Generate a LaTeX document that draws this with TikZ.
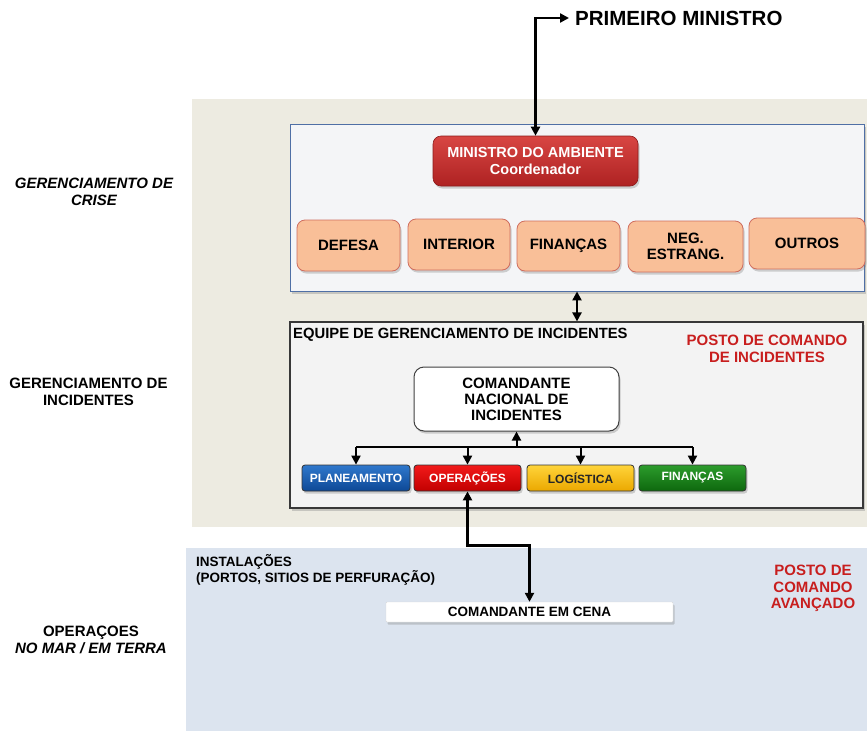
\documentclass[tikz,border=0pt]{standalone}
\usepackage{fontspec}
\setmainfont{Liberation Sans}
\usetikzlibrary{shadows,arrows.meta,calc}
\definecolor{beige}{HTML}{EDEBE1}
\definecolor{bluebg}{HTML}{DCE4EF}
\definecolor{crisisfill}{HTML}{F4F5F7}
\definecolor{crisisbord}{HTML}{4F6FA5}
\definecolor{orfill}{HTML}{F9BF98}
\definecolor{orbord}{HTML}{CF6D5E}
\definecolor{mdatop}{HTML}{D84643}
\definecolor{mdabot}{HTML}{AE2222}
\definecolor{redtxt}{HTML}{C81E1E}
\definecolor{incfill}{HTML}{F3F3F3}
\definecolor{plantop}{HTML}{2F78CC}
\definecolor{planbot}{HTML}{0D4896}
\definecolor{opetop}{HTML}{F21A1A}
\definecolor{opebot}{HTML}{C20000}
\definecolor{logtop}{HTML}{FFD43A}
\definecolor{logbot}{HTML}{EBA800}
\definecolor{fintop}{HTML}{2C9C2C}
\definecolor{finbot}{HTML}{0E680E}
\begin{document}
\begin{tikzpicture}[x=1pt,y=-1pt,
  lbl/.style={font=\fontsize{15}{16.5}\selectfont\bfseries, align=center, inner sep=1pt},
  shd/.style={drop shadow={opacity=0.35, shadow xshift=1.5pt, shadow yshift=-2.5pt}},
  orangebox/.style={draw=orbord, fill=orfill, rounded corners=8pt, line width=0.8pt,
    minimum height=51pt, font=\fontsize{15}{16}\selectfont\bfseries, align=center, shd},
  rowbox/.style={rounded corners=3pt, draw=black!80, line width=0.8pt, minimum width=107pt,
    minimum height=26pt, font=\fontsize{12}{13}\selectfont\bfseries, shd},
  arr/.style={line width=2pt, -{Triangle[length=9pt,width=9pt]}},
  darr/.style={line width=2.3pt, {Triangle[length=9pt,width=9pt]}-{Triangle[length=9pt,width=9pt]}},
]
\useasboundingbox (0,0) rectangle (867,731);
\fill[white] (0,0) rectangle (867,731);
\fill[beige] (192,99) rectangle (867,527);
\fill[bluebg] (186,548) rectangle (867,731);

% left labels
\node[lbl, font=\fontsize{15}{16.5}\selectfont\bfseries\itshape] (lcrise) at (94,192) {GERENCIAMENTO DE\\CRISE};
\node[lbl] (linc) at (88.5,392) {GERENCIAMENTO DE\\INCIDENTES};
\node[lbl] (lops) at (91,640) {OPERAÇOES\\{\itshape NO MAR / EM TERRA}};

% crisis box
\node[draw=crisisbord, fill=crisisfill, line width=0.9pt, minimum width=574pt,
  minimum height=167pt, inner sep=0pt, shd] (crisis) at (577,207.5) {};
\node[rounded corners=8pt, top color=mdatop, bottom color=mdabot, draw=mdabot!80!black,
  line width=0.6pt, minimum width=205pt, minimum height=50pt, text=white,
  font=\fontsize{14.5}{17}\selectfont\bfseries, align=center, shd] (mda) at (535.5,161)
  {MINISTRO DO AMBIENTE\\Coordenador};

\node[orangebox, minimum width=103pt] (defesa) at (348.5,245.5) {DEFESA};
\node[orangebox, minimum width=102pt] (interior) at (459,244.5) {INTERIOR};
\node[orangebox, minimum width=103pt, minimum height=50pt] (financas) at (568.5,246) {FINANÇAS};
\node[orangebox, minimum width=115pt] (neg) at (685.5,246.5) {NEG.\\ESTRANG.};
\node[orangebox, minimum width=116pt] (outros) at (807,243.5) {OUTROS};

% primeiro ministro
\node[anchor=west, inner xsep=6pt, inner ysep=2pt, font=\fontsize{20.5}{24}\selectfont\bfseries] (pm) at (569,18) {PRIMEIRO MINISTRO};
\draw[darr] (mda.north) |- (pm.west);

% incident box
\node[draw=black!78, fill=incfill, line width=1.2pt, minimum width=573pt,
  minimum height=186pt, inner sep=0pt, shd] (inc) at (576.5,415) {};
\draw[darr] (crisis.south) -- (crisis.south |- inc.north);

\node[anchor=west, inner sep=2pt, font=\fontsize{14.8}{16}\selectfont\bfseries] (equipe) at (291,335) {EQUIPE DE GERENCIAMENTO DE INCIDENTES};
\node[lbl, text=redtxt] (pci) at (767,349) {POSTO DE COMANDO\\DE INCIDENTES};

\node[draw=black!75, fill=white, rounded corners=10pt, line width=1pt, minimum width=205pt,
  minimum height=64pt, font=\fontsize{15}{16}\selectfont\bfseries, align=center, shd] (cna) at (516.5,399)
  {COMANDANTE\\NACIONAL DE\\INCIDENTES};

\node[rowbox, top color=plantop, bottom color=planbot, text=white, minimum width=108pt] (pla) at (356,478) {PLANEAMENTO};
\node[rowbox, top color=opetop, bottom color=opebot, text=white] (ope) at (467.5,478) {OPERAÇÕES};
\node[rowbox, top color=logtop, bottom color=logbot, text=black!85] (log) at (580.5,478) {LOGÍSTICA};
\node[rowbox, top color=fintop, bottom color=finbot, text=white] (fin) at (692.5,478) {FINANÇAS};

\coordinate (bus) at (516.5,447);
\draw[line width=2pt] (pla.north |- bus) -- (fin.north |- bus);
\foreach \n in {pla,ope,log,fin} \draw[arr] (\n.north |- bus) -- (\n.north);
\draw[arr] (bus) -- (cna.south);

% operations area
\node[anchor=west, align=left, inner sep=2pt, font=\fontsize{13.5}{16}\selectfont\bfseries] (inst) at (194,570)
  {INSTALAÇÕES\\(PORTOS, SITIOS DE PERFURAÇÃO)};
\node[lbl, text=redtxt] (pca) at (813,588.5) {POSTO DE\\COMANDO\\AVANÇADO};
\node[fill=white, draw=black!15, line width=0.4pt, rounded corners=1pt, minimum width=287pt, minimum height=20pt,
  inner sep=1pt, font=\fontsize{13.5}{15}\selectfont\bfseries, shd] (cena) at (529.5,612) {COMANDANTE EM CENA};
\draw[darr] (ope.south) -- ++(0,54) -| (cena.north);
\end{tikzpicture}
\end{document}
